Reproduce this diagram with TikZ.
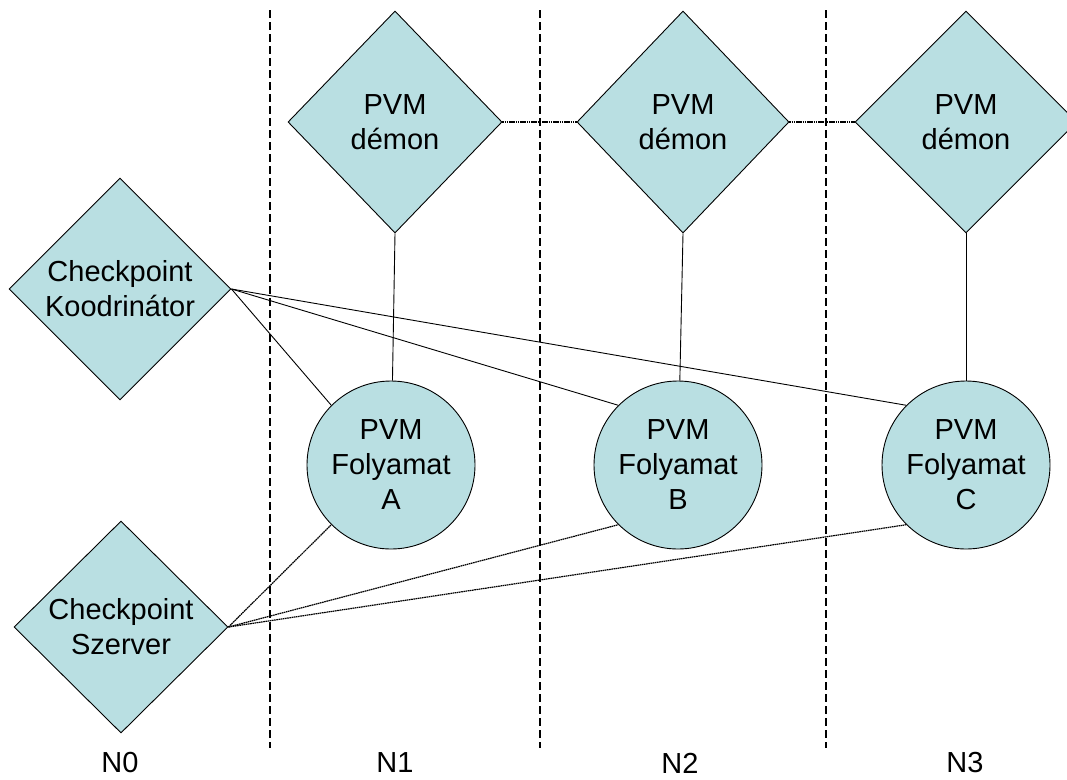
\documentclass[tikz,border=0pt]{standalone}
\usepackage{fontspec}
\setmainfont{Liberation Sans}
\usetikzlibrary{shapes.geometric,backgrounds}
\definecolor{boxfill}{RGB}{185,223,226}
\tikzset{
  dia/.style={diamond, draw=black, fill=boxfill, line width=0.9pt, inner sep=0pt, align=center,
     font=\fontsize{29}{35}\selectfont},
  proc/.style={circle, draw=black, fill=boxfill, line width=0.9pt, inner sep=0pt, align=center,
     minimum size=168pt, font=\fontsize{29}{35}\selectfont},
  sep/.style={line width=1.3pt, dash pattern=on 8pt off 4pt},
  solidlink/.style={line width=0.9pt},
  dotlink/.style={line width=1.2pt, dash pattern=on 1.6pt off 0.6pt},
  lbl/.style={font=\fontsize{29}{35}\selectfont, inner sep=0pt}
}
\begin{document}
\begin{tikzpicture}[x=1pt,y=-1pt]
\useasboundingbox (0,0) rectangle (1067,779);
% nodes
\node[dia, minimum width=214pt, minimum height=222pt] (d1) at (395,122) {PVM\\démon};
\node[dia, minimum width=212pt, minimum height=222pt] (d2) at (683,122) {PVM\\démon};
\node[dia, minimum width=222pt, minimum height=222pt] (d3) at (966,122) {PVM\\démon};
\node[dia, minimum width=222pt, minimum height=222pt] (ck) at (120,289) {Checkpoint\\Koodrinátor};
\node[dia, minimum width=214pt, minimum height=212pt] (cs) at (121,627) {Checkpoint\\Szerver};
\node[proc] (pa) at (391,465) {PVM\\Folyamat\\A};
\node[proc] (pb) at (678,465) {PVM\\Folyamat\\B};
\node[proc] (pc) at (966,465) {PVM\\Folyamat\\C};
% labels
\node[lbl] (n0) at (120,763) {N0};
\node[lbl] (n1) at (395,763) {N1};
\node[lbl] (n2) at (680,763) {N2};
\node[lbl] (n3) at (965,763) {N3};
\begin{pgfonlayer}{background}
% separators
\coordinate (s1t) at (270,10); \coordinate (s1b) at (270,748);
\coordinate (s2t) at (540,10); \coordinate (s2b) at (540,748);
\coordinate (s3t) at (826,10); \coordinate (s3b) at (826,748);
\draw[sep] (s1t) -- (s1b);
\draw[sep] (s2t) -- (s2b);
\draw[sep] (s3t) -- (s3b);
% links
\draw[dotlink] (d1.east) -- (d2.west);
\draw[dotlink] (d2.east) -- (d3.west);
\draw[solidlink] (d1.south) -- (pa);
\draw[solidlink] (d2.south) -- (pb);
\draw[solidlink] (d3.south) -- (pc);
\draw[solidlink] (ck.east) -- (pa.north west);
\draw[solidlink] (ck.east) -- (pb.north west);
\draw[solidlink] (ck.east) -- (pc.north west);
\draw[dotlink] (cs.east) -- (pa.south west);
\draw[dotlink] (cs.east) -- (pb.south west);
\draw[dotlink] (cs.east) -- (pc.south west);
\end{pgfonlayer}
\end{tikzpicture}
\end{document}
